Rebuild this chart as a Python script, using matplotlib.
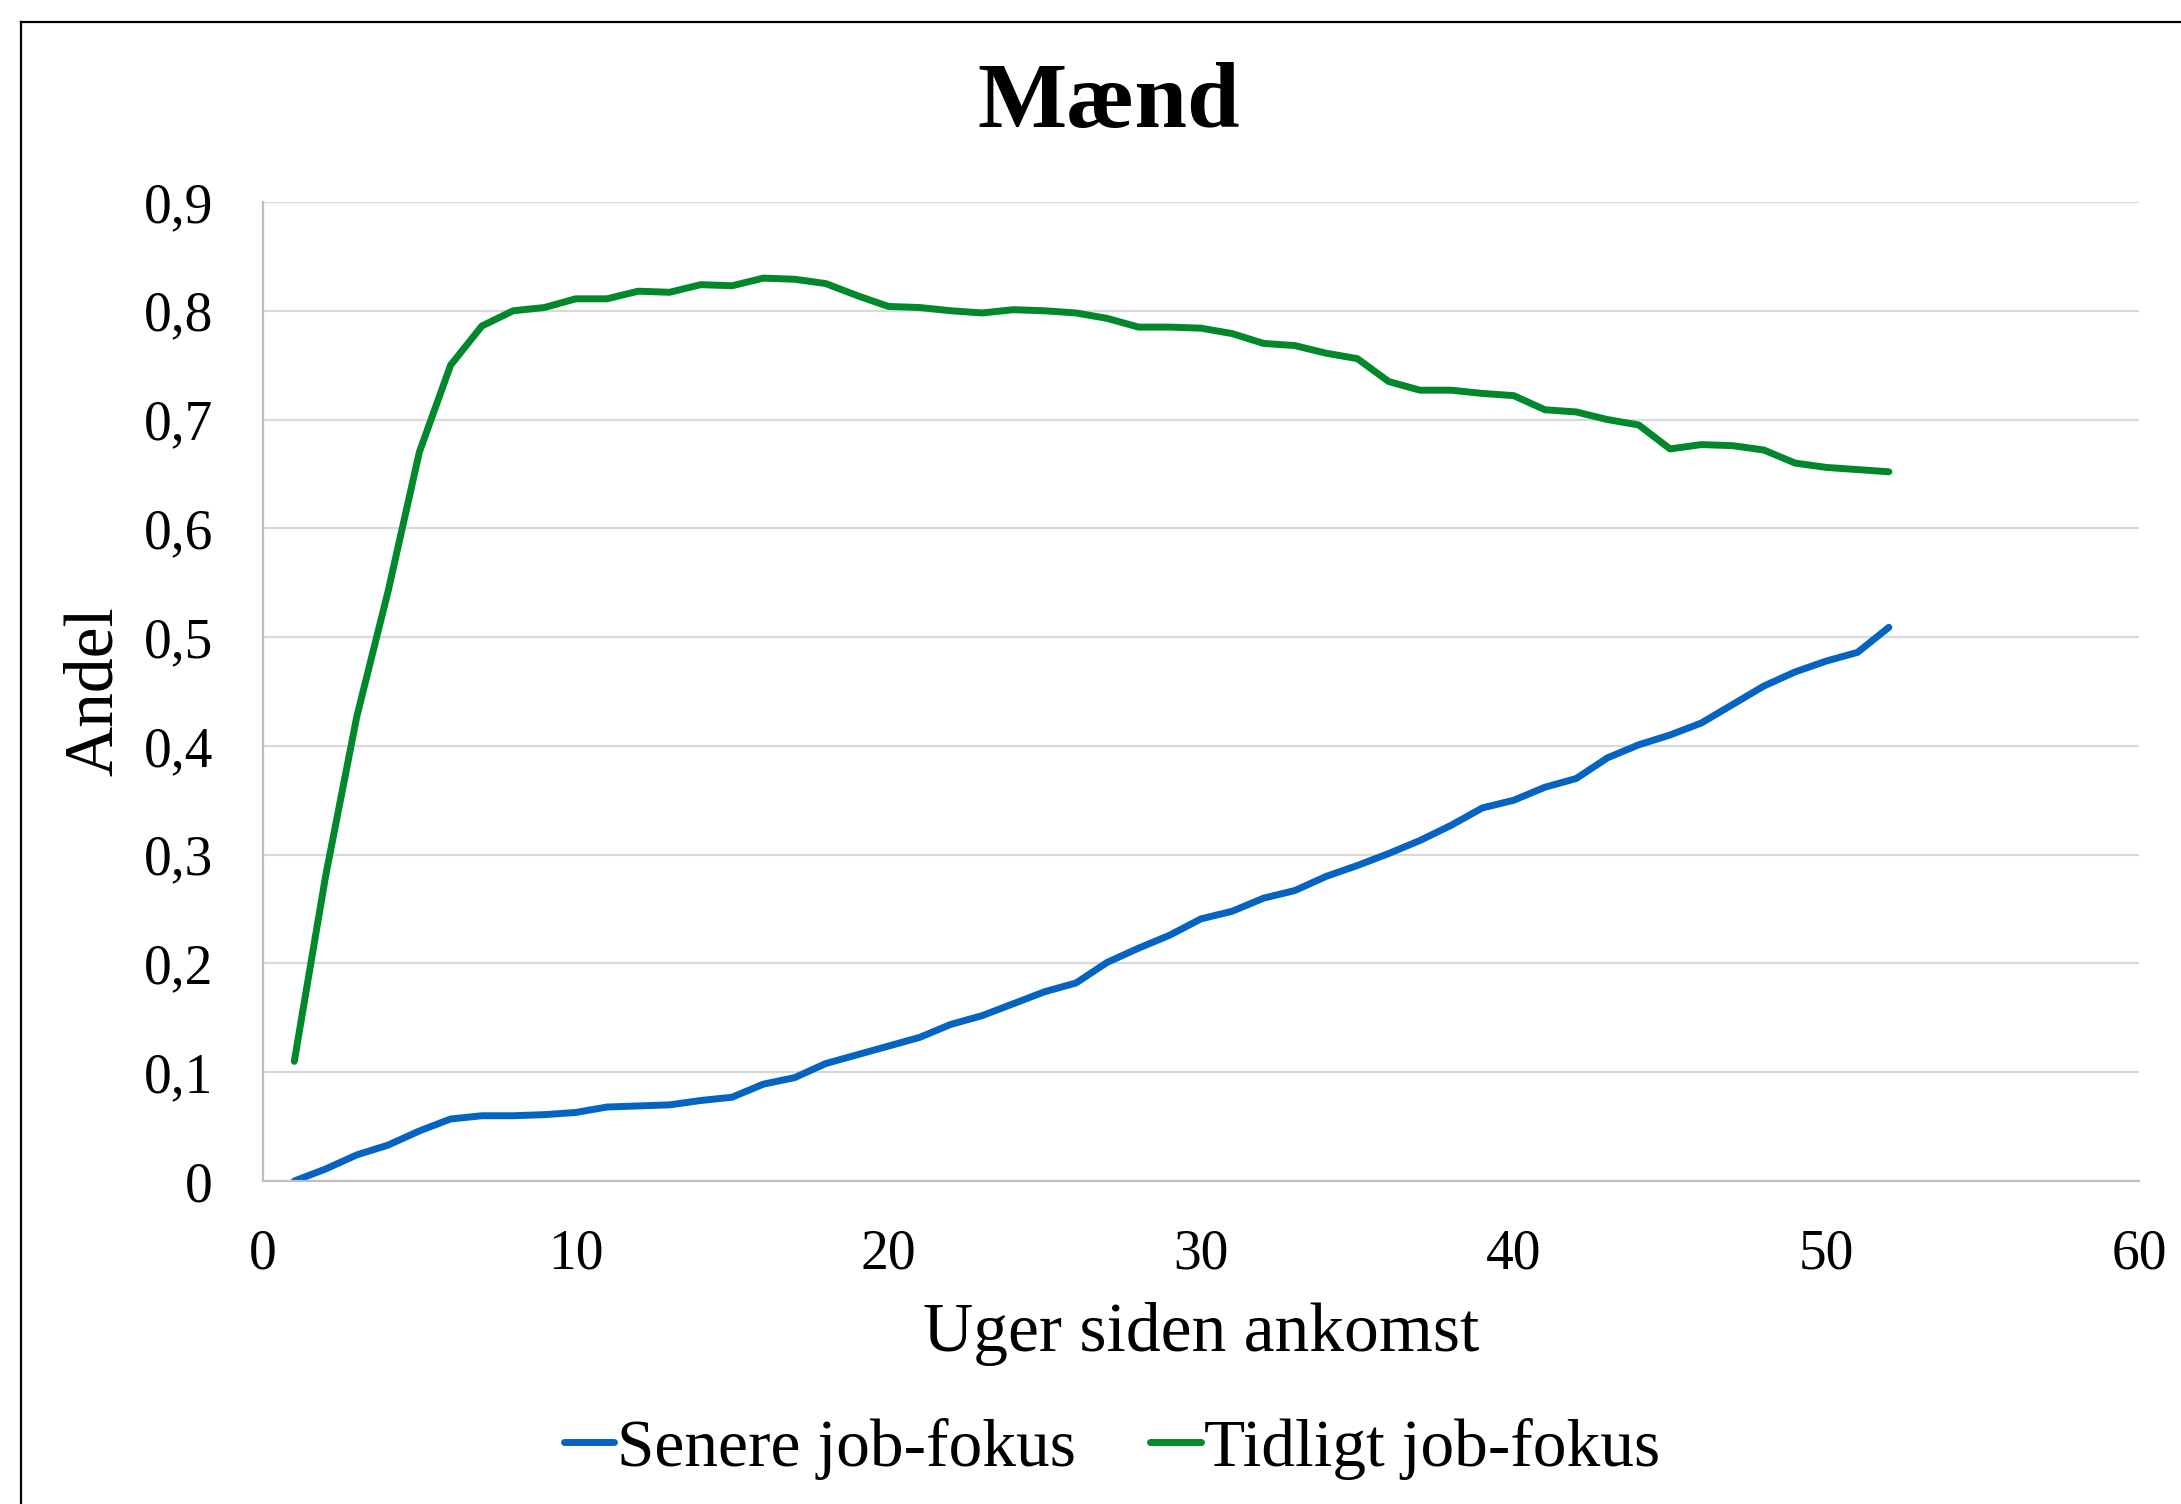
import matplotlib
matplotlib.use('Agg')
import matplotlib.pyplot as plt
from matplotlib.lines import Line2D

plt.rcParams['font.family'] = ['Liberation Serif', 'DejaVu Serif']

# Weeks since arrival
weeks = list(range(1, 53))

# Share with later job focus (blue)
senere = [0.000, 0.011, 0.024, 0.033, 0.046, 0.057, 0.060, 0.060, 0.061, 0.063,
          0.068, 0.069, 0.070, 0.074, 0.077, 0.089, 0.095, 0.108, 0.116, 0.124,
          0.132, 0.144, 0.152, 0.163, 0.174, 0.182, 0.201, 0.214, 0.226, 0.241,
          0.248, 0.260, 0.267, 0.280, 0.290, 0.301, 0.313, 0.327, 0.343, 0.350,
          0.362, 0.370, 0.389, 0.401, 0.410, 0.421, 0.438, 0.455, 0.468, 0.478,
          0.486, 0.509]

# Share with early job focus (green)
tidligt = [0.110, 0.280, 0.427, 0.542, 0.670, 0.750, 0.786, 0.800, 0.803, 0.811,
           0.811, 0.818, 0.817, 0.824, 0.823, 0.830, 0.829, 0.825, 0.814, 0.804,
           0.803, 0.800, 0.798, 0.801, 0.800, 0.798, 0.793, 0.785, 0.785, 0.784,
           0.779, 0.770, 0.768, 0.761, 0.756, 0.735, 0.727, 0.727, 0.724, 0.722,
           0.709, 0.707, 0.700, 0.695, 0.673, 0.677, 0.676, 0.672, 0.660, 0.656,
           0.654, 0.652]

xticks = [0, 10, 20, 30, 40, 50, 60]
yticks = [0, 0.1, 0.2, 0.3, 0.4, 0.5, 0.6, 0.7, 0.8, 0.9]
ytick_labels = ['0', '0,1', '0,2', '0,3', '0,4', '0,5', '0,6', '0,7', '0,8', '0,9']

W, H = 2181, 1504
fig = plt.figure(figsize=(W / 100, H / 100), dpi=100)
ax = fig.add_axes([263 / W, 1 - 1181 / H, (2139 - 263) / W, (1181 - 202) / H])

ax.plot(weeks, senere, color='#0563C1', lw=5, solid_capstyle='round',
        solid_joinstyle='round', label='Senere job-fokus')
ax.plot(weeks, tidligt, color='#00882B', lw=5, solid_capstyle='round',
        solid_joinstyle='round', label='Tidligt job-fokus')

ax.set_xlim(0, 60)
ax.set_ylim(0, 0.9)
ax.set_xticks(xticks)
ax.set_xticklabels([str(t) for t in xticks])
ax.set_yticks(yticks)
ax.set_yticklabels(ytick_labels)
ax.tick_params(length=0, labelsize=40, pad=36)
ax.tick_params(axis='x', pad=34)

ax.grid(axis='y', color='#D9D9D9', lw=1.6)
ax.set_axisbelow(True)
for side in ['top', 'right']:
    ax.spines[side].set_visible(False)
for side in ['left', 'bottom']:
    ax.spines[side].set_color('#BFBFBF')
    ax.spines[side].set_linewidth(1.6)

ax.set_xlabel('Uger siden ankomst', fontsize=50, labelpad=16)
fig.text(95 / W, 1 - 691 / H, 'Andel', fontsize=50, rotation=90,
         ha='center', va='center')

fig.text(1109 / W, 1 - 104 / H, 'Mænd', fontsize=68, fontweight='bold',
         ha='center', va='center')

fig.legend(loc='center', bbox_to_anchor=(1112 / W, 1 - 1449 / H), ncol=2,
           frameon=False, fontsize=48.5, handlelength=0.75, handletextpad=0.05,
           columnspacing=1.1)

# chart border (only left/top edges fall inside the image)
fig.add_artist(Line2D([21 / W, 21 / W], [0, 1 - 22 / H], color='black', lw=1.6))
fig.add_artist(Line2D([21 / W, 1], [1 - 22 / H, 1 - 22 / H], color='black', lw=1.6))

fig.savefig('out.png', dpi=100, facecolor='white')
